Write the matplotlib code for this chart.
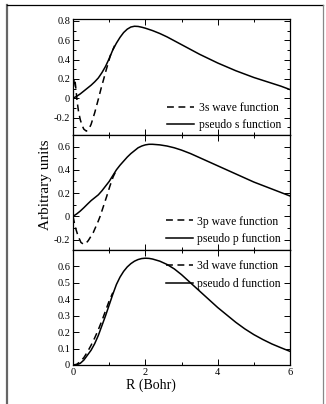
import matplotlib
matplotlib.use('Agg')
import matplotlib.pyplot as plt
from matplotlib.lines import Line2D

plt.rcParams['font.family'] = ['Liberation Serif', 'DejaVu Serif']

# 3s panel
r_s_pseudo = [0.0, 0.1, 0.2, 0.3, 0.4, 0.5, 0.6, 0.7, 0.8, 0.9, 1.0, 1.1, 1.2, 1.3, 1.4, 1.5,
              1.6, 1.7, 1.8, 1.9, 2.0, 2.2, 2.4, 2.6, 2.8, 3.0, 3.25, 3.5, 3.75, 4.0, 4.25,
              4.5, 4.75, 5.0, 5.25, 5.5, 5.75, 6.0]
s_pseudo = [0.0, 0.02, 0.045, 0.075, 0.105, 0.135, 0.17, 0.21, 0.265, 0.33, 0.41, 0.5, 0.57,
            0.63, 0.68, 0.715, 0.737, 0.745, 0.743, 0.735, 0.725, 0.70, 0.67, 0.635, 0.595,
            0.555, 0.505, 0.455, 0.41, 0.365, 0.325, 0.285, 0.25, 0.215, 0.185, 0.155, 0.125, 0.09]
r_s_wave = [0.0, 0.015, 0.03, 0.05, 0.08, 0.11, 0.15, 0.2, 0.25, 0.3, 0.37, 0.45, 0.5, 0.55,
            0.6, 0.65, 0.7, 0.78, 0.85, 0.9, 0.97, 1.03, 1.1, 1.15]
s_wave = [0.0, 0.12, 0.2, 0.2, 0.1, -0.02, -0.13, -0.22, -0.28, -0.32, -0.34, -0.31, -0.27,
          -0.21, -0.15, -0.08, -0.01, 0.107, 0.2, 0.27, 0.36, 0.44, 0.5, 0.545]

# 3p panel
r_p_pseudo = [0.0, 0.1, 0.2, 0.3, 0.4, 0.5, 0.6, 0.7, 0.8, 0.9, 1.0, 1.1, 1.2, 1.3, 1.4, 1.5,
              1.6, 1.7, 1.8, 1.9, 2.0, 2.1, 2.2, 2.4, 2.6, 2.8, 3.0, 3.25, 3.5, 3.75, 4.0,
              4.25, 4.5, 4.75, 5.0, 5.25, 5.5, 5.75, 6.0]
p_pseudo = [0.0, 0.02, 0.045, 0.074, 0.105, 0.135, 0.16, 0.185, 0.22, 0.26, 0.3, 0.35, 0.4,
            0.44, 0.475, 0.51, 0.54, 0.565, 0.59, 0.605, 0.615, 0.62, 0.62, 0.615, 0.605,
            0.59, 0.57, 0.54, 0.505, 0.47, 0.435, 0.4, 0.365, 0.33, 0.295, 0.265, 0.235,
            0.205, 0.175]
r_p_wave = [0.0, 0.04, 0.08, 0.12, 0.17, 0.22, 0.29, 0.35, 0.42, 0.5, 0.56, 0.63, 0.7, 0.75,
            0.84, 0.93, 1.02, 1.11, 1.18, 1.22]
p_wave = [0.0, -0.06, -0.11, -0.15, -0.19, -0.225, -0.24, -0.235, -0.21, -0.17, -0.14, -0.09,
          -0.04, 0.0, 0.085, 0.17, 0.26, 0.34, 0.385, 0.41]

# 3d panel
r_d_pseudo = [0.0, 0.1, 0.2, 0.3, 0.4, 0.5, 0.6, 0.7, 0.8, 0.9, 1.0, 1.1, 1.2, 1.3, 1.4, 1.5,
              1.6, 1.7, 1.8, 1.9, 2.0, 2.1, 2.2, 2.4, 2.6, 2.8, 3.0, 3.25, 3.5, 3.75, 4.0,
              4.25, 4.5, 4.75, 5.0, 5.25, 5.5, 5.75, 6.0]
d_pseudo = [0.0, 0.001, 0.01, 0.03, 0.06, 0.09, 0.13, 0.18, 0.24, 0.3, 0.365, 0.43, 0.49,
            0.535, 0.57, 0.597, 0.617, 0.632, 0.642, 0.648, 0.65, 0.649, 0.645, 0.632, 0.612,
            0.585, 0.55, 0.5, 0.45, 0.4, 0.35, 0.305, 0.26, 0.22, 0.185, 0.155, 0.128, 0.105,
            0.083]
r_d_wave = [0.0, 0.1, 0.2, 0.3, 0.4, 0.5, 0.6, 0.7, 0.8, 0.9, 1.0, 1.1]
d_wave = [0.0, 0.004, 0.02, 0.045, 0.08, 0.12, 0.165, 0.215, 0.27, 0.33, 0.39, 0.44]

W, H = 326, 404
fig = plt.figure(figsize=(W / 100, H / 100), dpi=100)

left, right = 73 / W, 290 / W
panels = [(19, 135), (135, 250), (250, 365)]
axes = []
for top, bot in panels:
    ax = fig.add_axes([left, 1 - bot / H, right - left, (bot - top) / H])
    axes.append(ax)

dash = (0, (4.5, 3))
lw = 1.1

ax1, ax2, ax3 = axes
ax1.plot(r_s_wave, s_wave, color='black', lw=lw, linestyle=dash, label='3s wave function')
ax1.plot(r_s_pseudo, s_pseudo, color='black', lw=lw, label='pseudo s function')
ax1.set_ylim(-0.38, 0.82)
ax1.set_yticks([-0.2, 0, 0.2, 0.4, 0.6, 0.8])
ax1.set_yticklabels(['-0.2', '0', '0.2', '0.4', '0.6', '0.8'])
ax1.set_yticks([-0.3, -0.1, 0.1, 0.3, 0.5, 0.7], minor=True)

ax2.plot(r_p_wave, p_wave, color='black', lw=lw, linestyle=dash, label='3p wave function')
ax2.plot(r_p_pseudo, p_pseudo, color='black', lw=lw, label='pseudo p function')
ax2.set_ylim(-0.29, 0.70)
ax2.set_yticks([-0.2, 0, 0.2, 0.4, 0.6])
ax2.set_yticklabels(['-0.2', '0', '0.2', '0.4', '0.6'])
ax2.set_yticks([-0.1, 0.1, 0.3, 0.5], minor=True)

ax3.plot(r_d_wave, d_wave, color='black', lw=lw, linestyle=dash, label='3d wave function')
ax3.plot(r_d_pseudo, d_pseudo, color='black', lw=lw, label='pseudo d function')
ax3.set_ylim(0, 0.70)
ax3.set_yticks([0, 0.1, 0.2, 0.3, 0.4, 0.5, 0.6])
ax3.set_yticklabels(['0', '0.1', '0.2', '0.3', '0.4', '0.5', '0.6'])

for ax in axes:
    ax.set_xlim(0, 6)
    ax.set_xticks([0, 2, 4, 6])
    ax.set_xticks([1, 3, 5], minor=True)
    ax.tick_params(which='both', direction='in', top=True, right=True,
                   labelsize=7.5, pad=2, width=0.7)
    ax.tick_params(which='major', length=4)
    ax.tick_params(which='minor', length=2.5)
    for sp in ax.spines.values():
        sp.set_linewidth(0.9)
for ax in axes[:2]:
    ax.tick_params(labelbottom=False)
ax3.set_xticklabels(['0', '2', '4', '6'])

leg_kw = dict(frameon=False, fontsize=8.4, handlelength=2.3, handletextpad=0.4,
              labelspacing=0.5, borderaxespad=0.0)
ax1.legend(loc='lower right', bbox_to_anchor=(0.98, -0.01), **leg_kw)
ax2.legend(loc='lower right', bbox_to_anchor=(0.98, 0.0), **leg_kw)
ax3.legend(loc='upper right', bbox_to_anchor=(0.98, 0.95), **leg_kw)

fig.text(45 / W, 1 - 185 / H, 'Arbitrary units', rotation=90, fontsize=11,
         ha='center', va='center')
fig.text(151 / W, 1 - 385 / H, 'R (Bohr)', fontsize=10, ha='center', va='center')

# outer frame of the page
fig.add_artist(Line2D([7 / W, 7 / W], [0, 1 - 5 / H], color='#666666', lw=1.6))
fig.add_artist(Line2D([7 / W, 323 / W], [1 - 5 / H, 1 - 5 / H], color='black', lw=0.9))
fig.add_artist(Line2D([323 / W, 323 / W], [0, 1 - 5 / H], color='#888888', lw=0.9))

fig.savefig('out.png', dpi=100)
